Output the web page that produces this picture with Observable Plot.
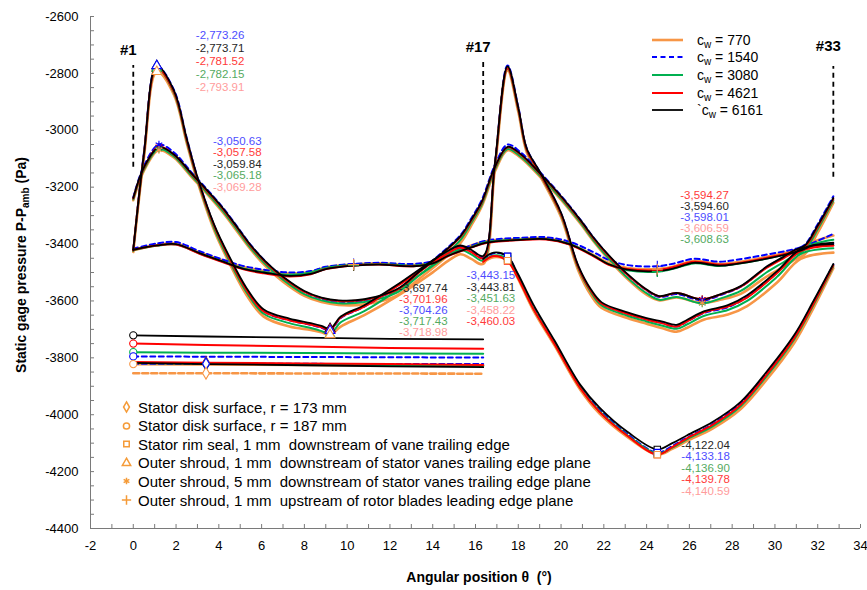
<!DOCTYPE html>
<html>
<head>
<meta charset="utf-8">
<script src="https://cdn.jsdelivr.net/npm/d3@7"></script>
<script src="https://cdn.jsdelivr.net/npm/@observablehq/plot@0.6"></script>
<style>
  html, body { margin: 0; padding: 0; background: #fff; }
  #chart { position: relative; width: 867px; height: 590px; overflow: hidden;
           font-family: "Liberation Sans", Arial, Helvetica, sans-serif; color: #000; }
  #chart > svg { position: absolute; left: 0; top: 0; }
  .overlay { position: absolute; white-space: pre; }
  .row { display: flex; align-items: center; }
  .row svg { flex: none; overflow: visible; }
  .sub { font-size: 10px; position: relative; top: 3px; }
  .axis-title { position: absolute; font-weight: bold; font-size: 14px; white-space: pre; }
</style>
</head>
<body>
<div id="chart"></div>
<script>
const FONT = '"Liberation Sans", Arial, Helvetica, sans-serif';

// Cooling-water cases c_w and their line styles
const cwCases = ["770", "1540", "3080", "4621", "6161"];
const cwColors = ["#F79646", "#0000FF", "#00B050", "#FF0000", "#000000"];
const cwLabelColors = ["#FF9C9C", "#4D4DFF", "#55AA5F", "#FF3A3A", "#262626"];
const cwWidths = [2.6, 2, 2, 2, 1.8];
const cwDashes = [null, "5,3.5", null, null, null];

// Angular positions (deg)
const thetaDisk = [0, 3.4, 8, 12, 16.36];
const thetaRim = [16.36, 16.85, 17.5, 17.95, 18.7, 19.7, 20.9, 21.8, 23.1, 24.5, 25.2, 25.9, 27.1, 28.4, 29.6, 30.9, 31.8, 32.73];
const thetaShroud1 = [0, 0.5, 1.1, 1.9, 2.5, 3.0, 3.8, 4.5, 5.3, 6.1, 7.3, 8.3, 8.8, 9.2, 9.7, 10.8, 12.3, 13.9, 14.8, 15.3, 15.8,
  16.36, 16.9, 17.5, 18.0, 18.4, 19.0, 20.0, 20.8, 21.4, 21.9, 23.1, 24.0, 24.7, 25.4, 25.9, 26.7, 27.8, 28.7, 30.1, 31.2, 32.73];
const thetaShroud5 = [0, 0.5, 1.2, 1.9, 2.7, 3.5, 4.2, 4.9, 5.5, 6.3, 7.0, 8.0, 8.8, 9.6, 10.8, 12.3, 13.4, 14.4, 15.3, 15.8,
  16.3, 16.9, 17.5, 18.1, 19.0, 20.0, 20.9, 21.6, 22.3, 23.1, 24.0, 24.6, 25.4, 26.6, 27.5, 28.4, 29.6, 30.4, 30.9, 31.4, 32.0, 32.73];
const thetaShroudUp = [0, 1.1, 2.0, 3.1, 4.2, 5.2, 6.1, 7.3, 8.3, 9.0, 10.3, 11.5, 13.1, 14.0, 14.7, 15.8, 16.5, 18.1, 19.3, 20.4,
  21.5, 22.2, 23.1, 24.5, 25.3, 26.2, 27.4, 28.2, 29.4, 31.1, 31.8, 32.73];

// Stator disk surface, r = 173 mm (Pa)
const disk173_770 = [-3854, -3854, -3855, -3855, -3856];
const disk173_1540 = [-3821, -3821, -3821, -3822, -3822];
const disk173_3080 = [-3818, -3820, -3823, -3826, -3828];
const disk173_4621 = [-3815, -3817, -3820, -3822, -3825];
const disk173_6161 = [-3818, -3822, -3826, -3830, -3833];

// Stator disk surface, r = 187 mm
const disk187_770 = [-3822, -3823, -3825, -3827, -3828];
const disk187_1540 = [-3795, -3796, -3797, -3798, -3799];
const disk187_3080 = [-3780, -3782, -3783, -3785, -3786];
const disk187_4621 = [-3750, -3755, -3760, -3765, -3768];
const disk187_6161 = [-3721, -3725, -3729, -3733, -3735];

// Stator rim seal, 1 mm downstream of vane trailing edge
const rim_770 = [-3465, -3446, -3458.22, -3516, -3632, -3757, -3912, -3996, -4078, -4140.59, -4120, -4092, -4048, -3980, -3878, -3748, -3625, -3485];
const rim_1540 = [-3455, -3432, -3443.15, -3505, -3620, -3746, -3900, -3982, -4068, -4133.18, -4110, -4080, -4032, -3960, -3856, -3725, -3605, -3472];
const rim_3080 = [-3460, -3440, -3451.63, -3510, -3625, -3750, -3905, -3988, -4072, -4136.90, -4116, -4086, -4040, -3970, -3866, -3735, -3614, -3478];
const rim_4621 = [-3462, -3442, -3460.03, -3514, -3627, -3752, -3907, -3990, -4074, -4139.78, -4114, -4082, -4035, -3965, -3860, -3730, -3610, -3475];
const rim_6161 = [-3452, -3430, -3443.81, -3500, -3612, -3740, -3895, -3975, -4060, -4122.04, -4100, -4072, -4025, -3955, -3850, -3720, -3600, -3470];

// Outer shroud, 1 mm downstream of stator vanes trailing edge plane
const shroud1_770 = [-3428, -3095, -2793.91, -2875, -3045, -3180, -3355, -3468, -3580, -3655, -3690, -3702, -3710, -3718.98, -3690, -3650, -3585, -3505, -3455, -3436, -3452,
  -3470, -3140, -2790, -2935, -3078, -3158, -3305, -3492, -3580, -3625, -3660, -3680, -3695, -3708, -3694, -3665, -3648, -3618, -3535, -3452, -3430];
const shroud1_1540 = [-3420, -3078, -2773.26, -2858, -3028, -3165, -3338, -3450, -3560, -3636, -3668, -3684, -3694, -3704.26, -3660, -3620, -3548, -3465, -3423, -3410, -3425,
  -3448, -3122, -2772, -2918, -3064, -3146, -3292, -3478, -3565, -3610, -3645, -3665, -3677, -3690, -3672, -3642, -3622, -3586, -3500, -3420, -3398];
const shroud1_3080 = [-3424, -3088, -2782.15, -2868, -3040, -3175, -3348, -3460, -3570, -3645, -3678, -3695, -3706, -3717.43, -3675, -3636, -3565, -3482, -3436, -3420, -3436,
  -3458, -3132, -2784, -2928, -3072, -3152, -3298, -3484, -3570, -3616, -3652, -3672, -3686, -3698, -3682, -3652, -3632, -3600, -3515, -3435, -3415];
const shroud1_4621 = [-3422, -3085, -2781.52, -2865, -3035, -3170, -3340, -3452, -3562, -3637, -3668, -3684, -3693, -3701.96, -3658, -3620, -3550, -3470, -3428, -3412, -3428,
  -3450, -3128, -2782, -2925, -3070, -3150, -3295, -3480, -3565, -3610, -3645, -3665, -3678, -3690, -3672, -3640, -3620, -3588, -3502, -3425, -3405];
const shroud1_6161 = [-3420, -3080, -2773.71, -2860, -3030, -3165, -3335, -3445, -3555, -3630, -3662, -3678, -3688, -3697.74, -3655, -3615, -3545, -3462, -3420, -3405, -3420,
  -3442, -3120, -2775, -2920, -3065, -3145, -3290, -3475, -3560, -3605, -3640, -3660, -3672, -3684, -3666, -3636, -3615, -3580, -3495, -3418, -3395];

// Outer shroud, 5 mm downstream of stator vanes trailing edge plane
const shroud5_770 = [-3246, -3142, -3069.28, -3096, -3162, -3228, -3290, -3360, -3420, -3486, -3532, -3582, -3604, -3614, -3612, -3582, -3520, -3460, -3396, -3335,
  -3266, -3146, -3070, -3096, -3162, -3244, -3328, -3398, -3460, -3522, -3578, -3598, -3588, -3606.59, -3595, -3575, -3515, -3480, -3456, -3435, -3360, -3255];
const shroud5_1540 = [-3236, -3125, -3050.63, -3078, -3146, -3212, -3273, -3343, -3404, -3470, -3516, -3568, -3592, -3603, -3599, -3562, -3495, -3432, -3368, -3310,
  -3244, -3124, -3050, -3077, -3146, -3230, -3314, -3385, -3447, -3508, -3563, -3586, -3576, -3598.01, -3578, -3550, -3482, -3446, -3422, -3402, -3330, -3232];
const shroud5_3080 = [-3243, -3138, -3065.18, -3092, -3158, -3224, -3285, -3355, -3415, -3480, -3525, -3576, -3598, -3608, -3604, -3572, -3508, -3448, -3385, -3326,
  -3260, -3140, -3066, -3092, -3158, -3240, -3324, -3395, -3456, -3518, -3573, -3596, -3586, -3608.63, -3590, -3565, -3500, -3464, -3440, -3420, -3348, -3248];
const shroud5_4621 = [-3240, -3133, -3057.58, -3086, -3152, -3218, -3278, -3348, -3408, -3473, -3518, -3568, -3590, -3600, -3596, -3562, -3497, -3437, -3375, -3318,
  -3253, -3133, -3060, -3085, -3152, -3234, -3318, -3388, -3448, -3508, -3562, -3584, -3572, -3594.27, -3576, -3550, -3484, -3450, -3428, -3410, -3340, -3242];
const shroud5_6161 = [-3238, -3130, -3059.84, -3085, -3150, -3215, -3275, -3345, -3405, -3470, -3515, -3565, -3588, -3598, -3594, -3560, -3495, -3435, -3372, -3315,
  -3250, -3130, -3058, -3083, -3150, -3232, -3315, -3385, -3445, -3505, -3560, -3583, -3572, -3594.60, -3575, -3548, -3480, -3445, -3422, -3405, -3335, -3238];

// Outer shroud, 1 mm upstream of rotor blades leading edge plane
const shroudUp_770 = [-3422, -3404, -3398, -3430, -3458, -3482, -3494, -3504, -3498, -3482, -3472, -3468, -3474, -3462, -3436, -3405, -3390, -3382, -3380, -3400,
  -3438, -3466, -3484, -3488, -3478, -3460, -3470, -3464, -3448, -3418, -3392, -3370];
const shroudUp_1540 = [-3416, -3398, -3393, -3425, -3455, -3478, -3490, -3500, -3495, -3480, -3470, -3466, -3470, -3460, -3436, -3405, -3388, -3378, -3376, -3392,
  -3428, -3455, -3474, -3478, -3468, -3452, -3462, -3455, -3440, -3414, -3395, -3364];
const shroudUp_3080 = [-3421, -3406, -3402, -3433, -3462, -3487, -3498, -3508, -3500, -3484, -3474, -3470, -3476, -3466, -3440, -3410, -3393, -3384, -3382, -3400,
  -3440, -3470, -3492, -3497, -3486, -3468, -3477, -3470, -3454, -3424, -3400, -3385];
const shroudUp_4621 = [-3420, -3405, -3402, -3434, -3464, -3490, -3503, -3514, -3506, -3488, -3475, -3472, -3478, -3468, -3443, -3412, -3396, -3386, -3384, -3402,
  -3442, -3472, -3488, -3492, -3480, -3462, -3472, -3468, -3452, -3423, -3405, -3405];
const shroudUp_6161 = [-3420, -3405, -3400, -3432, -3462, -3488, -3500, -3512, -3505, -3488, -3476, -3472, -3478, -3468, -3442, -3412, -3395, -3385, -3383, -3400,
  -3440, -3470, -3490, -3495, -3485, -3466, -3476, -3470, -3455, -3425, -3405, -3400];

// Measurement locations, in legend order
const locations = [
  {key: "disk173", name: "Stator disk surface, r = 173 mm", symbol: "diamond", open: true, smooth: false,
   theta: thetaDisk, markers: [3.4], dashes: ["6,3", "5,3.5", null, null, null],
   values: [disk173_770, disk173_1540, disk173_3080, disk173_4621, disk173_6161]},
  {key: "disk187", name: "Stator disk surface, r = 187 mm", symbol: "circle", open: true, smooth: false,
   theta: thetaDisk, markers: [0],
   values: [disk187_770, disk187_1540, disk187_3080, disk187_4621, disk187_6161]},
  {key: "rim", name: "Stator rim seal, 1 mm  downstream of vane trailing edge", symbol: "square", open: true, smooth: true,
   theta: thetaRim, markers: [17.5, 24.5],
   values: [rim_770, rim_1540, rim_3080, rim_4621, rim_6161]},
  {key: "shroud1", name: "Outer shroud, 1 mm  downstream of stator vanes trailing edge plane", symbol: "triangle", open: true, smooth: true,
   theta: thetaShroud1, markers: [1.1, 9.2],
   values: [shroud1_770, shroud1_1540, shroud1_3080, shroud1_4621, shroud1_6161]},
  {key: "shroud5", name: "Outer shroud, 5 mm  downstream of stator vanes trailing edge plane", symbol: "asterisk", open: false, smooth: true,
   theta: thetaShroud5, markers: [1.2, 26.6],
   values: [shroud5_770, shroud5_1540, shroud5_3080, shroud5_4621, shroud5_6161]},
  {key: "shroudUp", name: "Outer shroud, 1 mm  upstream of rotor blades leading edge plane", symbol: "plus", open: false, smooth: true,
   theta: thetaShroudUp, markers: [10.3, 24.5],
   values: [shroudUp_770, shroudUp_1540, shroudUp_3080, shroudUp_4621, shroudUp_6161]}
];

// Value call-outs: location, angle, and text-block offset (px) from the highest value
const calloutKeys = ["shroud1", "shroud5", "shroud1", "rim", "shroud5", "rim"];
const calloutTheta = [1.1, 1.2, 9.2, 17.5, 26.6, 24.5];
const calloutDx = [39, 54, 69, -41, -22, 24];
const calloutDy = [-30, -3.5, -40, 19, -104.5, -4.5];
const calloutStep = [12.9, 11.5, 11, 11.6, 11.2, 11.5];

// Vane positions
const vaneNames = ["#1", "#17", "#33"];
const vaneTheta = [0, 16.36, 32.73];
const vaneTop = [-2772, -2749, -2776];
const vaneBottom = [-3130, -3159, -3165];
const vaneLabelP = [-2720, -2708, -2705];

const xTicks = d3.range(-2, 35, 2);
const yTicks = d3.range(-4400, -2599, 200);
const AXIS = "#7a7a7a";

const fmt = d3.formatLocale({decimal: ".", thousands: ",", grouping: [3], currency: ["", ""], minus: "-"}).format(",.2f");

const marks = [
  Plot.axisX({ticks: d3.range(-2, 35, 1), tickSize: -4, tickFormat: () => "", stroke: AXIS, label: null}),
  Plot.axisX({ticks: xTicks, tickSize: 0, tickPadding: 12, tickFormat: d => `${d}`, fontSize: 13, label: null}),
  Plot.axisY({ticks: d3.range(-4400, -2599, 50), tickSize: -4, tickFormat: () => "", stroke: AXIS, label: null}),
  Plot.axisY({ticks: yTicks, tickSize: 0, tickPadding: 12, tickFormat: d => `${d}`, fontSize: 13, label: null}),
  Plot.ruleX([-2], {stroke: AXIS, strokeWidth: 1}),
  Plot.ruleY([-4400], {stroke: AXIS, strokeWidth: 1})
];

// Vane markers
const vanes = vaneNames.map((n, i) => ({n, theta: vaneTheta[i], top: vaneTop[i], bottom: vaneBottom[i], lp: vaneLabelP[i]}));
marks.push(Plot.ruleX(vanes, {x: "theta", y1: "bottom", y2: "top", stroke: "#000", strokeWidth: 1.8, strokeDasharray: "5,4"}));
marks.push(Plot.text(vanes, {x: "theta", y: "lp", text: "n", dx: -5, fontWeight: "bold", fontSize: 15, fill: "#000"}));

// Pressure curves, one case at a time
cwCases.forEach((cw, i) => {
  locations.forEach(loc => {
    const pts = loc.theta.map((t, k) => ({theta: t, p: loc.values[i][k]}));
    const dash = loc.dashes ? loc.dashes[i] : cwDashes[i];
    marks.push(Plot.line(pts, {
      x: "theta", y: "p", stroke: cwColors[i], strokeWidth: cwWidths[i],
      strokeDasharray: dash || undefined, curve: loc.smooth ? "catmull-rom" : "linear"
    }));
  });
});

// Point markers at the reported positions (lowest c_w drawn last)
d3.range(cwCases.length).reverse().forEach(i => {
  locations.forEach(loc => {
    const pts = loc.markers.map(t => ({theta: t, p: loc.values[i][loc.theta.indexOf(t)]}));
    marks.push(Plot.dot(pts, {
      x: "theta", y: "p", symbol: loc.symbol, r: 3.6, stroke: cwColors[i],
      fill: loc.open ? "white" : "none", strokeWidth: 1.1
    }));
  });
});

// Value call-outs, highest value first
calloutKeys.forEach((key, g) => {
  const loc = locations.find(l => l.key === key);
  const k = loc.theta.indexOf(calloutTheta[g]);
  const rows = cwCases.map((cw, i) => ({i, p: loc.values[i][k]})).sort((a, b) => b.p - a.p);
  rows.forEach((r, j) => {
    marks.push(Plot.text([{theta: calloutTheta[g], p: rows[0].p, label: fmt(r.p)}], {
      x: "theta", y: "p", text: "label", fill: cwLabelColors[r.i], textAnchor: "start",
      dx: calloutDx[g], dy: calloutDy[g] + j * calloutStep[g], fontSize: 11.5
    }));
  });
});

const plot = Plot.plot({
  width: 867, height: 590,
  marginLeft: 90, marginRight: 7, marginTop: 16, marginBottom: 62,
  style: {fontFamily: FONT, fontSize: "13px", color: "#000", background: "#fff", overflow: "visible"},
  x: {domain: [-2, 34]},
  y: {domain: [-4400, -2600]},
  marks
});

const chart = document.getElementById("chart");
chart.appendChild(plot);

// Axis titles
const yTitle = document.createElement("div");
yTitle.className = "axis-title";
yTitle.style.left = "21px";
yTitle.style.top = "265px";
yTitle.style.transform = "translate(-50%, -50%) rotate(-90deg)";
yTitle.innerHTML = 'Static gage pressure P-P<span class="sub">amb</span> (Pa)';
chart.appendChild(yTitle);

const xTitle = document.createElement("div");
xTitle.className = "axis-title";
xTitle.style.left = "479px";
xTitle.style.top = "577px";
xTitle.style.transform = "translate(-50%, -50%)";
xTitle.textContent = "Angular position \u03B8  (\u00B0)";
chart.appendChild(xTitle);

// c_w legend (top right)
const cwLegend = document.createElement("div");
cwLegend.className = "overlay";
cwLegend.style.left = "650px";
cwLegend.style.top = "31px";
cwCases.forEach((cw, i) => {
  const row = document.createElement("div");
  row.className = "row";
  row.style.height = "17.6px";
  const s = d3.create("svg").attr("width", 34).attr("height", 10);
  s.append("line").attr("x1", 2).attr("x2", 33).attr("y1", 5).attr("y2", 5)
    .attr("stroke", cwColors[i]).attr("stroke-width", cwWidths[i])
    .attr("stroke-dasharray", cwDashes[i]);
  row.appendChild(s.node());
  const t = document.createElement("span");
  t.style.fontSize = "14px";
  t.style.marginLeft = "13px";
  t.innerHTML = (i === 4 ? "`" : "") + 'c<span class="sub">w</span> = ' + cw;
  row.appendChild(t);
  cwLegend.appendChild(row);
});
chart.appendChild(cwLegend);

// Location legend (bottom left)
const symbolTypes = {diamond: d3.symbolDiamond, circle: d3.symbolCircle, square: d3.symbolSquare,
  triangle: d3.symbolTriangle, asterisk: d3.symbolAsterisk, plus: d3.symbolPlus};
const LEGEND_MARK = "#F59B38";
const locLegend = document.createElement("div");
locLegend.className = "overlay";
locLegend.style.left = "120px";
locLegend.style.top = "398px";
locations.forEach(loc => {
  const row = document.createElement("div");
  row.className = "row";
  row.style.height = "18.55px";
  const s = d3.create("svg").attr("width", 12).attr("height", 12);
  s.append("path").attr("transform", "translate(6.5,6)")
    .attr("d", d3.symbol(symbolTypes[loc.symbol], 30)())
    .attr("fill", loc.open ? "white" : "none").attr("stroke", LEGEND_MARK).attr("stroke-width", 1.5);
  row.appendChild(s.node());
  const t = document.createElement("span");
  t.style.fontSize = "15px";
  t.style.marginLeft = "6px";
  t.textContent = loc.name;
  row.appendChild(t);
  locLegend.appendChild(row);
});
chart.appendChild(locLegend);
</script>
</body>
</html>
